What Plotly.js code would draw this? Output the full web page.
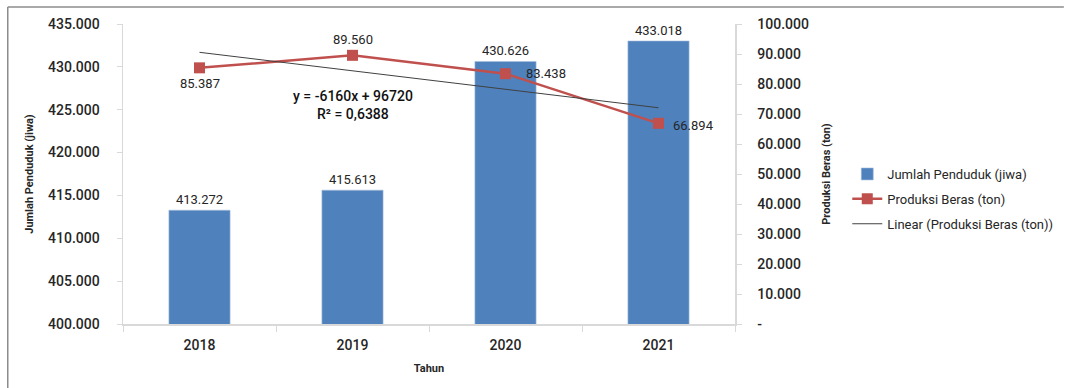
<!DOCTYPE html>
<html>
<head>
<meta charset="utf-8">
<script src="https://cdn.plot.ly/plotly-3.0.1.min.js"></script>
<style>
  html, body { margin: 0; padding: 0; background: #fff; }
  #chart { width: 1070px; height: 388px; }
</style>
</head>
<body>
<div id="chart"></div>
<script>
// ---- data ----
const years = ['2018', '2019', '2020', '2021'];
const jumlahPenduduk = [413272, 415613, 430626, 433018];
const produksiBeras = [85387, 89560, 83438, 66894];
// Linear trend of Produksi Beras (y = -6160x + 96720) at x = 1..4
const trendBeras = [90560, 84400, 78240, 72080];
const trendEquation = 'y = -6160x + 96720';
const trendR2 = 'R² = 0,6388';
const leftTicks = [400000, 405000, 410000, 415000, 420000, 425000, 430000, 435000];
const rightTicks = [0, 10000, 20000, 30000, 40000, 50000, 60000, 70000, 80000, 90000, 100000];
const rightTickText = ['-', '10.000', '20.000', '30.000', '40.000', '50.000', '60.000', '70.000', '80.000', '90.000', '100.000'];

const FONT = 'Roboto, "Open Sans", "DejaVu Sans", sans-serif';
const TXT = '#262626';

const fmt = v => String(v).replace(/\B(?=(\d{3})+(?!\d))/g, '.');

const traces = [
  {
    type: 'bar', name: 'Jumlah Penduduk (jiwa)',
    x: years, y: jumlahPenduduk, yaxis: 'y',
    width: 0.4,
    marker: { color: '#4F81BD', line: { color: '#A7BFDE', width: 0.6 } },
    texttemplate: '%{y:,}', textposition: 'outside', cliponaxis: false,
    textfont: { family: FONT, size: 13, color: TXT },
    legendgroup: 'a', hoverinfo: 'x+y'
  },
  {
    type: 'scatter', mode: 'lines+markers', name: 'Produksi Beras (ton)',
    x: years, y: produksiBeras, yaxis: 'y2',
    line: { color: '#C0504D', width: 2.5 },
    marker: { symbol: 'square', size: 11, color: '#C0504D' },
    cliponaxis: false, legendgroup: 'b'
  },
  {
    type: 'scatter', mode: 'lines', name: 'Linear (Produksi Beras (ton))',
    x: years, y: trendBeras, yaxis: 'y2',
    line: { color: '#404040', width: 1 },
    legendgroup: 'c', hoverinfo: 'skip'
  }
];

// label placement for the Produksi Beras points (offsets in px)
const labelPlacement = [
  { xanchor: 'center', yanchor: 'middle', xshift: 0, yshift: -16 },
  { xanchor: 'center', yanchor: 'middle', xshift: 0, yshift: 16 },
  { xanchor: 'left', yanchor: 'middle', xshift: 18, yshift: 0 },
  { xanchor: 'left', yanchor: 'middle', xshift: 12, yshift: -2 }
];
// x given as category index on the category axis
const lineLabels = produksiBeras.map((v, i) => Object.assign({
  xref: 'x', yref: 'y2', x: i, y: v, text: fmt(v), showarrow: false,
  font: { family: FONT, size: 13, color: TXT }
}, labelPlacement[i]));

// frame of the chart (pixel -> paper coords)
const L = 123, R = 739, T = 24, B = 324;
const px = v => (v - L) / (R - L);
const py = v => (B - v) / (B - T);

const tickFont = { family: FONT, size: 14, color: TXT, weight: 500 };
const titleFont = { family: FONT, size: 11, color: TXT, weight: 'bold' };

const layout = {
  width: 1070, height: 388,
  margin: { l: L, r: 1070 - R, t: T, b: 388 - B, pad: 0 },
  paper_bgcolor: '#fff', plot_bgcolor: '#fff',
  separators: ',.',
  font: { family: FONT, color: TXT },
  showlegend: true,
  xaxis: {
    type: 'category', range: [-0.5, 3.5], autorange: false,
    showline: true, linecolor: '#d9d9d9', linewidth: 1.5,
    ticks: 'outside', ticklen: 6, tickcolor: '#d9d9d9', tickson: 'boundaries',
    ticklabelstandoff: 8,
    tickfont: tickFont,
    showgrid: false, zeroline: false,
    title: { text: 'Tahun', font: titleFont, standoff: 12 }
  },
  yaxis: {
    range: [400000, 435000],
    tickvals: leftTicks, tickformat: ',',
    showline: true, linecolor: '#d9d9d9', linewidth: 1.5,
    ticks: 'outside', ticklen: 5, tickcolor: '#d9d9d9',
    ticklabelstandoff: 14,
    tickfont: tickFont,
    showgrid: false, zeroline: false,
    title: { text: 'Jumlah Penduduk (jiwa)', font: titleFont, standoff: 12 }
  },
  yaxis2: {
    overlaying: 'y', side: 'right',
    range: [0, 100000],
    tickvals: rightTicks, ticktext: rightTickText,
    showline: true, linecolor: '#d9d9d9', linewidth: 1.5,
    ticks: 'outside', ticklen: 5, tickcolor: '#d9d9d9',
    ticklabelstandoff: 13,
    tickfont: tickFont,
    showgrid: false, zeroline: false,
    title: { text: 'Produksi Beras (ton)', font: titleFont, standoff: 14 }
  },
  legend: {
    x: px(852), y: py(159), xanchor: 'left', yanchor: 'top',
    traceorder: 'grouped', tracegroupgap: 5,
    font: { family: FONT, size: 13, color: TXT },
    bgcolor: 'rgba(0,0,0,0)', itemwidth: 30
  },
  annotations: [
    {
      xref: 'paper', yref: 'paper', x: px(355), y: py(105),
      text: trendEquation + '<br>' + trendR2, showarrow: false,
      xanchor: 'center', yanchor: 'middle', align: 'center',
      font: { family: FONT, size: 14, color: '#111', weight: 500 }
    }
  ].concat(lineLabels),
  shapes: [
    { type: 'line', xref: 'paper', yref: 'paper', x0: px(7), x1: px(1070), y0: py(7), y1: py(7),
      line: { color: '#8c8c8c', width: 1.5 } },
    { type: 'line', xref: 'paper', yref: 'paper', x0: px(7), x1: px(7), y0: py(7), y1: py(388),
      line: { color: '#8c8c8c', width: 1.5 } }
  ]
};

Plotly.newPlot('chart', traces, layout, { displayModeBar: false, staticPlot: true });
</script>
</body>
</html>
